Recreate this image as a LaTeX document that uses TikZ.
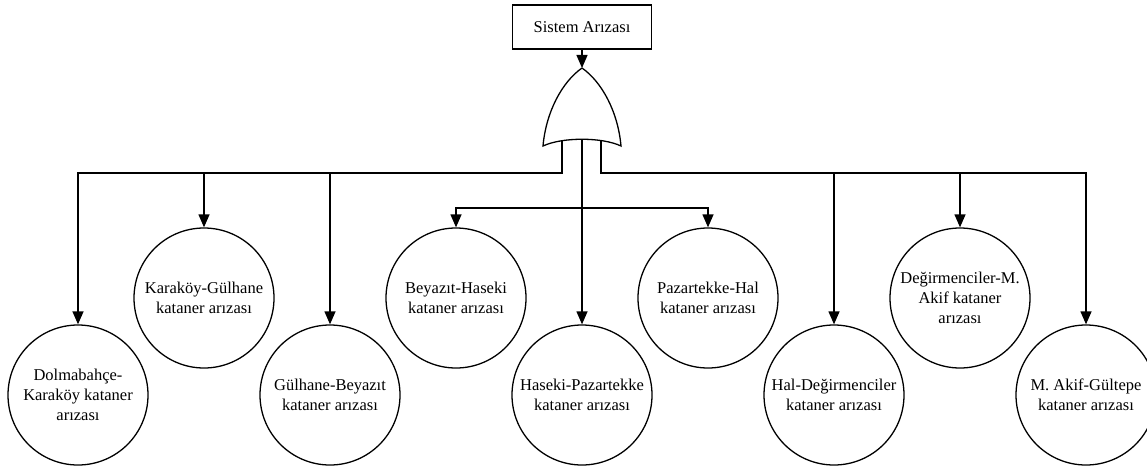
\documentclass[tikz,border=0pt]{standalone}
\usepackage{fontspec}
\setmainfont{Liberation Serif}
\usetikzlibrary{arrows.meta,positioning}

\begin{document}
\begin{tikzpicture}[x=1pt,y=-1pt,node distance=126pt,on grid,line width=1.3pt,
    >={Triangle[width=11pt,length=13pt]},
    event/.style={draw,circle,minimum size=140pt,inner sep=0pt,align=center,
        font=\fontsize{16.5}{20}\selectfont},
    topbox/.style={draw,minimum width=139pt,minimum height=44pt,inner sep=0pt,
        font=\fontsize{16.5}{20}\selectfont}]
\useasboundingbox (0,0) rectangle (1147,468);
\node[topbox] (top) at (582,27) {Sistem Arızası};
% OR kapisi
\draw[fill=white] (582,68) .. controls (562,82) and (546,112) .. (543,146)
    .. controls (562,137) and (602,137) .. (621,146)
    .. controls (618,112) and (602,82) .. (582,68);
\coordinate (tip) at (582,68);
\coordinate (gL) at (562,141);
\coordinate (gC) at (582,139);
\coordinate (gR) at (601,141);
\coordinate (busL) at (562,173);
\coordinate (busR) at (601,173);
\coordinate (busC) at (582,208);
% olaylar
\node[event] (f1) at (78,395) {Dolmabahçe-\\Karaköy kataner\\arızası};
\node[event] (f2) [above right=97pt and 126pt of f1] {Karaköy-Gülhane\\kataner arızası};
\node[event] (f3) [below right=97pt and 126pt of f2] {Gülhane-Beyazıt\\kataner arızası};
\node[event] (f4) [above right=97pt and 126pt of f3] {Beyazıt-Haseki\\kataner arızası};
\node[event] (f5) [below right=97pt and 126pt of f4] {Haseki-Pazartekke\\kataner arızası};
\node[event] (f6) [above right=97pt and 126pt of f5] {Pazartekke-Hal\\kataner arızası};
\node[event] (f7) [below right=97pt and 126pt of f6] {Hal-Değirmenciler\\kataner arızası};
\node[event] (f8) [above right=97pt and 126pt of f7] {Değirmenciler-M.\\Akif kataner\\arızası};
\node[event] (f9) [below right=97pt and 126pt of f8] {M. Akif-Gültepe\\kataner arızası};
% baglantilar
\draw[->] (top) -- (tip);
\draw[->] (gL) -- (busL) -| (f1);
\draw[->] (busL -| f2) -- (f2);
\draw[->] (busL -| f3) -- (f3);
\draw[->] (gC) -- (f5);
\draw[->] (busC) -| (f4);
\draw[->] (busC) -| (f6);
\draw[->] (gR) -- (busR) -| (f9);
\draw[->] (busR -| f7) -- (f7);
\draw[->] (busR -| f8) -- (f8);
\end{tikzpicture}
\end{document}
